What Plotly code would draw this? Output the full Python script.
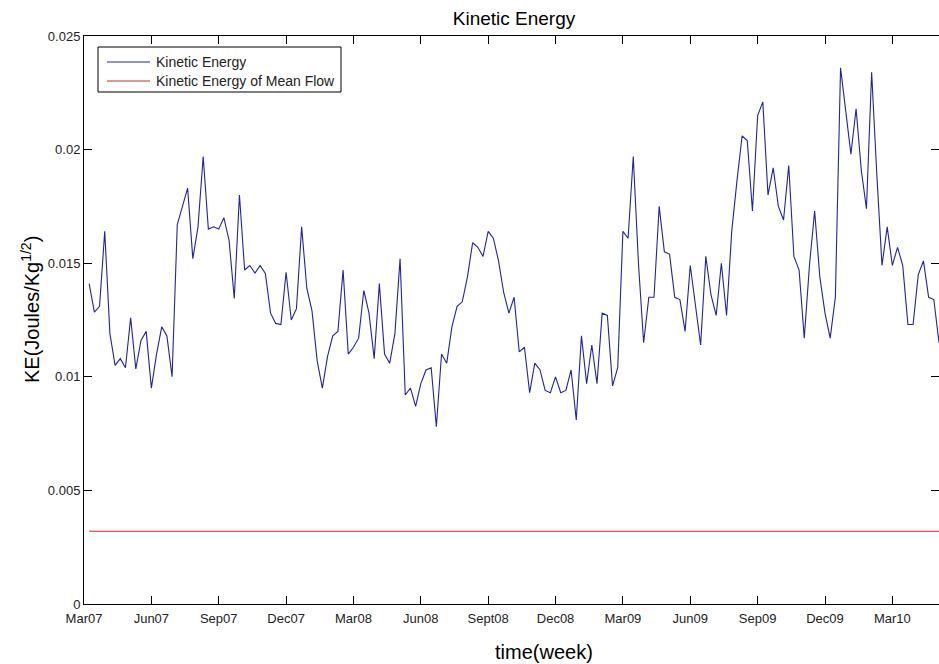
import plotly.graph_objects as go

# Weekly kinetic energy, starting the first week after Mar07
ke_values = [
    0.0141, 0.01285, 0.0131, 0.0164, 0.0119, 0.0105, 0.0108, 0.0104, 0.0126, 0.01035,
    0.0116, 0.0120, 0.0095, 0.0110, 0.0122, 0.0118, 0.0100, 0.0167, 0.0175, 0.0183,
    0.0152, 0.0166, 0.0197, 0.0165, 0.0166, 0.0165, 0.0170, 0.0160, 0.01345, 0.0180,
    0.0147, 0.0149, 0.01457, 0.0149, 0.01455, 0.0128, 0.01235, 0.0123, 0.0146, 0.0125,
    0.0130, 0.0166, 0.0139, 0.0129, 0.0107, 0.0095, 0.0109, 0.0118, 0.0120, 0.0147,
    0.0110, 0.0113, 0.0117, 0.0138, 0.0128, 0.0108, 0.0141, 0.0110, 0.0106, 0.0119,
    0.0152, 0.0092, 0.0095, 0.0087, 0.0097, 0.0103, 0.0104, 0.0078, 0.0110, 0.0106,
    0.0122, 0.0131, 0.0133, 0.0144, 0.0159, 0.0157, 0.0153, 0.0164, 0.0161, 0.0151,
    0.0137, 0.0128, 0.0135, 0.0111, 0.0113, 0.0093, 0.0106, 0.0103, 0.0094, 0.0093,
    0.0100, 0.0093, 0.0094, 0.0103, 0.0081, 0.0118, 0.0097, 0.0114, 0.0097, 0.0128,
    0.0127, 0.0096, 0.0104, 0.0164, 0.0161, 0.0197, 0.0150, 0.0115, 0.0135, 0.0135,
    0.0175, 0.0155, 0.0154, 0.0135, 0.0134, 0.0120, 0.0149, 0.0132, 0.0114, 0.0153,
    0.0136, 0.0127, 0.0150, 0.0127, 0.0164, 0.0186, 0.0206, 0.0204, 0.0173, 0.0215,
    0.0221, 0.0180, 0.0192, 0.0175, 0.0169, 0.0193, 0.0153, 0.0147, 0.0117, 0.0149,
    0.0173, 0.0144, 0.0128, 0.0117, 0.0135, 0.0236, 0.0218, 0.0198, 0.0218, 0.0191,
    0.0174, 0.0234, 0.0189, 0.0149, 0.0166, 0.0149, 0.0157, 0.0149, 0.0123, 0.0123,
    0.0145, 0.0151, 0.0135, 0.0134, 0.0115,
]
weeks = list(range(1, len(ke_values) + 1))

# Kinetic energy of the mean flow (constant over the record)
mean_flow_ke = 0.0032
mean_flow_values = [mean_flow_ke] * len(weeks)

# Quarterly tick marks (13 weeks apart)
tick_weeks = [0, 13, 26, 39, 52, 65, 78, 91, 104, 117, 130, 143, 156]
tick_labels = ["Mar07", "Jun07", "Sep07", "Dec07", "Mar08", "Jun08", "Sept08",
               "Dec08", "Mar09", "Jun09", "Sep09", "Dec09", "Mar10"]
y_ticks = [0, 0.005, 0.01, 0.015, 0.02, 0.025]
y_tick_labels = ["0", "0.005", "0.01", "0.015", "0.02", "0.025"]

series_names = ["Kinetic Energy", "Kinetic Energy of Mean Flow"]
series_colors = ["#23239a", "#d42a2a"]

FONT = "Arial, Liberation Sans, Helvetica, sans-serif"

# Plot-area geometry in pixels (used to place the boxed legend)
W, H = 939, 664
L, R, T, B = 84, 0, 36, 60
PW, PH = W - L - R, H - T - B


def px_x(px):
    return (px - L) / PW


def px_y(py):
    return (H - B - py) / PH


fig = go.Figure()
for name, vals, color in zip(series_names, [ke_values, mean_flow_values], series_colors):
    fig.add_trace(go.Scatter(
        x=weeks, y=vals, mode="lines", name=name,
        line=dict(color=color, width=1.1), showlegend=False,
    ))

axis_common = dict(
    showline=True, linecolor="black", linewidth=1, mirror="ticks",
    ticks="inside", ticklen=8, tickcolor="black", tickwidth=1,
    showgrid=False, zeroline=False,
    tickfont=dict(family=FONT, size=13, color="#222222"),
)

fig.update_layout(
    width=W, height=H,
    margin=dict(l=L, r=R, t=T, b=B),
    paper_bgcolor="white", plot_bgcolor="white",
    title=dict(text="Kinetic Energy", x=514 / W, xref="container",
               y=1 - 18 / H, yref="container", xanchor="center", yanchor="middle",
               font=dict(family=FONT, size=19, color="black")),
    xaxis=dict(range=[0, 165], tickvals=tick_weeks, ticktext=tick_labels,
               ticklabelstandoff=2, **axis_common),
    yaxis=dict(range=[0, 0.025], tickvals=y_ticks, ticktext=y_tick_labels, **axis_common),
    showlegend=False,
)

# Boxed legend in the upper-left corner of the axes
fig.add_shape(type="rect", xref="paper", yref="paper",
              x0=px_x(98), x1=px_x(341), y0=px_y(92), y1=px_y(47),
              line=dict(color="black", width=1), fillcolor="white", layer="above")
for i, (name, color) in enumerate(zip(series_names, series_colors)):
    row_y = px_y(62 + 19 * i)
    fig.add_shape(type="line", xref="paper", yref="paper",
                  x0=px_x(107), x1=px_x(150), y0=row_y, y1=row_y,
                  line=dict(color=color, width=1.1), layer="above")
    fig.add_annotation(text=name, xref="paper", yref="paper",
                       x=px_x(154), y=row_y, xanchor="left", yanchor="middle",
                       showarrow=False,
                       font=dict(family=FONT, size=14, color="#222222"))

fig.add_annotation(
    text="time(week)", xref="paper", yref="paper",
    x=px_x(544), y=px_y(652), xanchor="center", yanchor="middle",
    showarrow=False, font=dict(family=FONT, size=20, color="black"),
)
fig.add_annotation(
    text="KE(Joules/Kg<sup>1/2</sup>)", xref="paper", yref="paper",
    x=px_x(30), y=px_y(310), xanchor="center", yanchor="middle",
    textangle=-90, showarrow=False, font=dict(family=FONT, size=20, color="black"),
)

fig.write_html("out.html")
